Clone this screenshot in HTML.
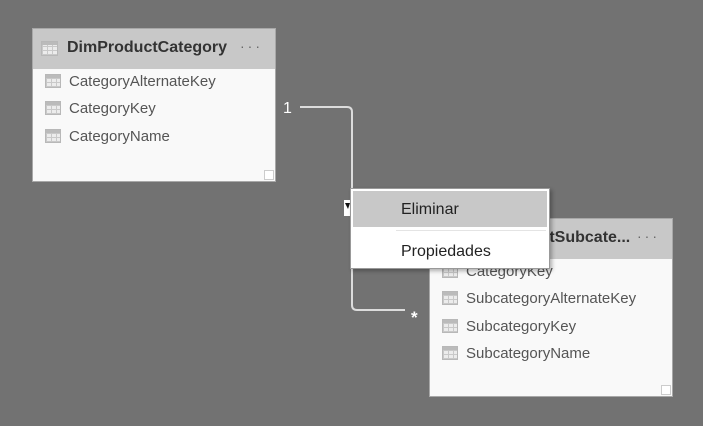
<!DOCTYPE html>
<html><head><meta charset="utf-8"><style>
html,body{margin:0;padding:0}
body{width:703px;height:426px;background:#727272;position:relative;overflow:hidden;font-family:"Segoe UI","Liberation Sans",sans-serif}
.t{position:absolute;background:#f9f9f9;border:1px solid #a8a8a8;box-sizing:border-box}
.h{position:absolute;left:0;top:0;right:0;height:40px;background:#c8c8c8}
.h b{position:absolute;left:34px;top:10px;font-size:16px;color:#333;font-weight:bold}
.h .d{position:absolute;right:12px;top:9px;font-size:14px;color:#666;letter-spacing:3px}
.ic{position:absolute;width:16px;height:14px;background:
 linear-gradient(#bbb,#bbb) 0 0/16px 3px no-repeat,
 repeating-linear-gradient(90deg,#c9c9c9 0 1px,transparent 1px 5px),
 repeating-linear-gradient(0deg,#c9c9c9 0 1px,#ececec 1px 4px);border:1px solid #b8b8b8;box-sizing:border-box}
.r{position:absolute;font-size:15px;color:#555}
.g{position:absolute;width:8px;height:8px;border:1px solid #ccc;background:#fff;right:1px;bottom:1px}
</style></head><body>
<div class="t" style="left:32px;top:28px;width:244px;height:154px">
 <div class="h"><div class="ic" style="left:8px;top:12px;width:17px;height:15px"></div><b>DimProductCategory</b><span class="d">···</span></div>
 <div class="ic" style="left:12px;top:45px"></div><div class="r" style="left:36px;top:44px">CategoryAlternateKey</div>
 <div class="ic" style="left:12px;top:72px"></div><div class="r" style="left:36px;top:71px">CategoryKey</div>
 <div class="ic" style="left:12px;top:100px"></div><div class="r" style="left:36px;top:99px">CategoryName</div>
 <div class="g"></div>
</div>
<div class="t" style="left:429px;top:218px;width:244px;height:179px">
 <div class="h"><b>DimProductSubcate...</b><span class="d">···</span></div>
 <div class="ic" style="left:12px;top:45px"></div><div class="r" style="left:36px;top:44px">CategoryKey</div>
 <div class="ic" style="left:12px;top:72px"></div><div class="r" style="left:36px;top:71px">SubcategoryAlternateKey</div>
 <div class="ic" style="left:12px;top:100px"></div><div class="r" style="left:36px;top:99px">SubcategoryKey</div>
 <div class="ic" style="left:12px;top:127px"></div><div class="r" style="left:36px;top:126px">SubcategoryName</div>
 <div class="g"></div>
</div>
<svg width="703" height="426" style="position:absolute;left:0;top:0">
 <path d="M300 107 H347 Q352 107 352 112 V305 Q352 310 357 310 H405" fill="none" stroke="#dcdcdc" stroke-width="2"/>
 <text x="283" y="113" font-size="16" fill="#fff" font-family="Liberation Sans,sans-serif">1</text>
 <text x="411" y="323" font-size="17" font-weight="bold" fill="#fff" font-family="Liberation Sans,sans-serif">*</text>
 <rect x="344" y="200" width="7" height="16" fill="#fff"/>
 <path d="M345 203 L350 203 L348 209 Z" fill="#111"/>
</svg>
<div style="position:absolute;left:350px;top:188px;width:200px;height:81px;background:#fff;border:1px solid #999;box-sizing:border-box;box-shadow:2px 2px 4px rgba(0,0,0,.3)">
 <div style="position:absolute;left:2px;top:2px;width:194px;height:36px;background:#c8c8c8"></div>
 <div style="position:absolute;left:50px;top:12px;font-size:16px;color:#222">Eliminar</div>
 <div style="position:absolute;left:45px;top:41px;width:150px;height:1px;background:#e4e4e4"></div>
 <div style="position:absolute;left:50px;top:54px;font-size:16px;color:#222">Propiedades</div>
</div>
</body></html>
